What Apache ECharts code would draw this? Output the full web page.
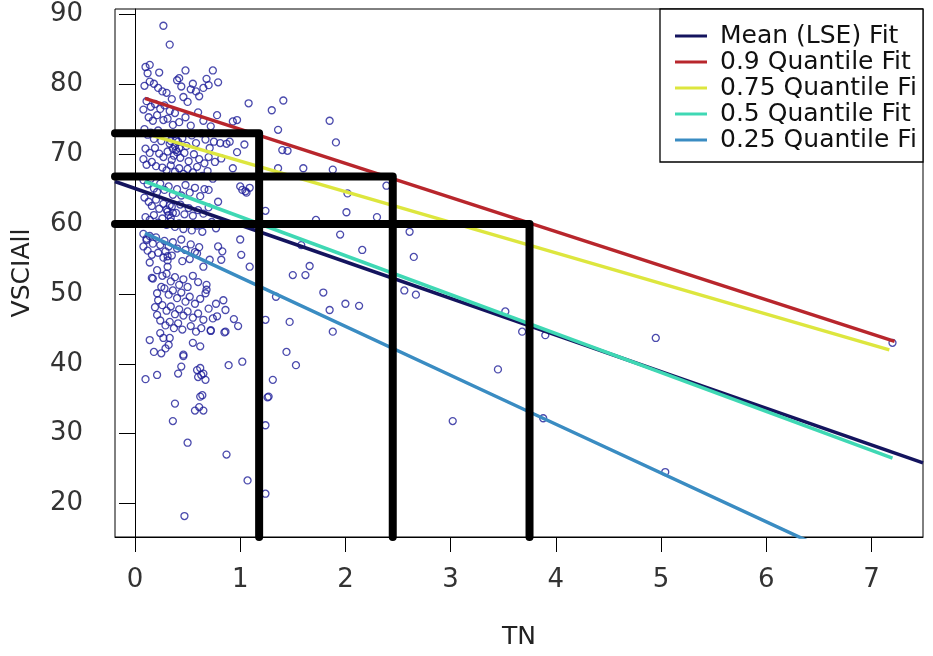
<!DOCTYPE html>
<html>
<head>
<meta charset="utf-8">
<script src="https://cdn.jsdelivr.net/npm/echarts@6/dist/echarts.min.js"></script>
<style>
html,body{margin:0;padding:0;background:#fff;}
#chart{width:933px;height:656px;}
</style>
</head>
<body>
<div id="chart"></div>
<script>
// ---- data ----
const xTicks = [0, 1, 2, 3, 4, 5, 6, 7];
const yTicks = [20, 30, 40, 50, 60, 70, 80, 90];
const xRange = [-0.19, 7.49];
const yRange = [15.2, 90.8];

const seriesNames = ['Mean (LSE) Fit', '0.9 Quantile Fit', '0.75 Quantile Fit', '0.5 Quantile Fit', '0.25 Quantile Fit'];

// fitted lines (TN, VSCIAll) endpoints
const meanFit = [[-0.19, 66.1], [7.49, 25.8]];
const q90Fit  = [[0.095, 78.0], [7.22, 43.2]];
const q75Fit  = [[0.095, 73.0], [7.17, 42.0]];
const q50Fit  = [[0.095, 66.1], [7.20, 26.5]];
const q25Fit  = [[0.095, 58.7], [3.75, 33.1], [7.20, 9.0]];

// thick black guide lines: horizontal level, vertical position
const guideLevels = [73.0, 66.8, 60.0];
const guideTN     = [1.18, 2.45, 3.75];

// observations (TN, VSCIAll)
const obsTN = [
0.27,0.33,0.14,0.23,0.48,0.74,0.79,0.42,0.53,0.65,1.08,1.41,1.30,0.97,1.36,1.85,1.91,1.40,1.45,0.87,1.04,0.97,0.93,1.36,1.60,1.88,1.02,1.09,0.08,
1.24,1.00,1.01,1.09,1.50,1.62,1.34,1.47,1.24,1.00,1.05,0.81,0.90,0.93,1.06,0.79,0.70,0.79,0.83,0.82,0.65,0.71,0.59,0.61,0.68,0.67,0.16,0.08,0.11,
1.79,1.88,1.44,1.53,1.31,1.27,1.02,0.89,0.84,0.86,0.78,0.86,0.94,0.98,0.72,0.68,0.14,0.31,0.17,0.25,0.21,0.22,0.19,0.21,
0.55,0.62,0.46,0.10,0.21,0.41,0.44,0.62,0.65,0.60,0.67,
0.14,0.18,0.25,0.29,0.32,0.24,0.27,0.33,0.46,0.38,0.36,0.50,0.47,0.59,0.63,0.62,0.64,0.57,0.65,0.61,0.72,0.85,0.87,1.07,1.26,1.24,1.24,
2.39,2.61,2.65,2.56,2.67,3.52,3.68,3.45,4.95,3.90,3.02,5.04,3.88,
2.02,2.01,2.16,1.95,1.72,1.58,2.30,1.85,2.00,2.13,1.66,7.20,
0.10,0.12,0.14,0.09,0.18,0.22,0.26,0.30,0.35,0.40,0.44,0.46,0.50,0.55,0.58,0.61,0.68,0.70,0.11,0.15,0.19,0.24,0.28,0.33,0.38,0.13,0.17,0.21,0.08,0.27,0.31,0.36,0.42,0.48,0.53,0.60,0.65,0.72,0.78,
0.09,0.12,0.15,0.18,0.22,0.25,0.29,0.33,0.37,0.41,0.45,0.49,0.54,0.58,0.63,0.67,0.71,0.75,0.10,0.14,0.19,0.23,0.27,0.31,0.35,0.39,0.43,0.47,0.51,0.56,0.61,0.66,0.70,0.76,0.82,0.11,0.16,0.20,0.26,0.30,0.34,0.38,0.42,0.46,0.50,0.55,0.59,0.64,0.69,0.74,
0.36,0.38,0.40,0.37,0.42,0.39,0.34,
0.08,0.12,0.15,0.18,0.21,0.24,0.28,0.32,0.36,0.40,0.44,0.48,0.52,0.57,0.62,0.66,0.09,0.13,0.16,0.20,0.23,0.27,0.31,0.35,0.39,0.43,0.47,0.51,0.55,0.60,0.65,0.70,0.10,0.14,0.18,0.22,0.26,0.30,0.34,0.38,0.42,0.46,0.50,0.54,0.59,0.64,0.73,0.77,
0.32,0.34,0.36,0.30,0.33,
0.08,0.11,0.14,0.17,0.20,0.24,0.28,0.32,0.36,0.40,0.44,0.48,0.53,0.57,0.12,0.16,0.22,0.27,0.31,0.35,0.45,0.52,0.29,0.31,
0.21,0.26,0.30,0.34,0.38,0.42,0.46,0.50,0.55,0.60,0.28,0.32,0.36,0.40,0.44,0.48,0.52,0.57,0.62,0.26,0.30,0.34,0.38,0.42,0.46,0.50,0.55,0.60,0.65,0.70,0.24,0.29,0.33,0.37,0.41,0.45,0.53,0.58,0.63,0.74,0.77
];
const obsVSCI = [
88.4,85.7,82.8,81.7,82.0,82.0,80.3,80.9,79.3,79.5,77.3,77.7,76.3,74.9,73.5,74.8,71.7,70.6,70.5,71.5,71.4,70.3,68.0,68.0,68.0,67.8,64.9,65.2,69.3,
61.9,57.8,55.6,53.9,52.7,52.7,49.6,46.0,46.3,65.4,64.7,71.6,71.8,74.7,64.5,63.2,64.9,56.8,56.1,54.9,53.9,54.9,55.8,56.7,50.6,50.1,52.3,56.8,57.7,
50.2,44.6,41.7,39.8,37.7,35.3,40.3,39.8,49.1,47.7,46.8,44.6,46.4,45.4,44.8,51.3,54.5,53.9,52.2,51.0,50.1,49.1,48.1,47.0,
43.0,42.5,41.3,37.8,38.4,38.6,39.6,39.4,38.6,38.1,37.7,
43.4,41.7,41.5,42.2,42.7,44.4,43.7,43.7,41.1,34.3,31.8,28.7,18.2,39.1,38.4,35.3,35.5,33.3,33.3,33.8,44.7,44.5,27.0,23.3,35.2,31.2,21.4,
65.5,58.9,55.3,50.5,49.9,47.5,44.6,39.2,43.7,44.1,31.8,24.5,32.2,
64.4,61.7,56.3,58.5,60.6,57.0,61.0,47.7,48.6,48.3,54.0,43.0,
82.5,81.6,80.4,79.8,80.1,79.5,79.0,78.8,77.9,80.6,79.7,78.2,77.5,80.1,79.0,78.3,80.8,79.9,77.6,76.8,77.2,76.5,77.0,76.2,75.9,75.3,74.8,75.6,76.4,74.9,75.1,74.2,74.6,75.3,74.1,76.0,74.8,74.0,75.6,
73.6,72.8,73.1,72.2,73.4,71.9,72.6,71.5,72.9,71.8,72.3,71.2,72.7,71.6,73.0,72.1,70.9,71.8,70.8,70.2,70.9,70.1,69.6,70.4,69.2,70.6,69.5,70.2,69.0,70.0,69.3,68.7,69.6,68.9,69.4,68.5,68.9,68.3,68.1,67.7,68.4,67.5,68.0,67.2,67.9,67.4,68.2,66.9,67.6,66.5,
70.8,71.2,70.3,69.8,70.9,72.0,71.9,
66.3,65.7,66.5,65.1,64.6,65.8,64.9,65.4,64.2,65.0,64.1,65.6,64.5,65.2,64.0,65.0,63.8,63.2,62.6,63.5,62.2,62.9,61.8,62.5,61.6,62.8,61.4,62.3,61.2,62.0,61.5,62.4,61.0,60.6,61.3,60.2,60.8,59.9,60.4,59.6,60.1,59.3,60.0,59.1,59.8,58.9,60.3,59.4,
61.3,60.9,61.6,62.1,62.7,
58.6,57.9,58.3,57.2,58.1,57.0,57.6,56.8,57.4,56.5,57.8,56.3,57.1,56.0,56.2,55.6,55.9,55.2,54.8,55.5,54.7,55.0,56.1,55.4,
53.4,52.6,52.9,51.8,52.4,51.3,52.1,51.0,52.6,51.7,50.8,49.9,50.5,49.4,50.2,48.9,49.6,48.6,49.3,48.4,47.6,48.2,47.1,47.8,46.9,47.5,46.6,47.2,46.3,47.9,46.2,45.5,46.0,45.1,45.8,44.9,45.4,44.6,45.1,46.5,48.6
];

// ---- build options ----
const observations = obsTN.map((t, i) => [t, obsVSCI[i]]);
const fitData = [meanFit, q90Fit, q75Fit, q50Fit, q25Fit];
const fitColors = ['#14145e', '#b8262c', '#dde63e', '#3fd8b4', '#3a8cc2'];
const FONT = 'DejaVu Sans';

const series = [{
  type: 'scatter',
  data: observations,
  symbol: 'circle',
  symbolSize: 7,
  itemStyle: { color: 'rgba(0,0,0,0)', borderColor: '#1e1e98', borderWidth: 1.3 },
  silent: true,
  z: 2
}];
fitData.forEach((d, i) => {
  series.push({
    type: 'line', name: seriesNames[i], data: d,
    showSymbol: false, symbol: 'none',
    lineStyle: { color: fitColors[i], width: 3.5 },
    itemStyle: { color: fitColors[i] },
    clip: true, z: 3
  });
});
guideLevels.forEach((lv, i) => {
  series.push({
    type: 'line',
    data: [[xRange[0], lv], [guideTN[i], lv], [guideTN[i], yRange[0]]],
    showSymbol: false, symbol: 'none',
    lineStyle: { color: '#000', width: 8, cap: 'round', join: 'round' },
    clip: false, z: 4, silent: true
  });
});

const chart = echarts.init(document.getElementById('chart'), null, { renderer: 'canvas' });
chart.setOption({
  animation: false,
  backgroundColor: '#fff',
  textStyle: { fontFamily: FONT },
  grid: { left: 115, right: 10, top: 9, bottom: 119, show: true, borderColor: '#000', borderWidth: 1, backgroundColor: 'transparent' },
  legend: {
    data: seriesNames,
    orient: 'vertical',
    left: 660, top: 9,
    padding: [14, 0, 9, 15],
    itemGap: 0,
    itemWidth: 32, itemHeight: 3,
    icon: 'rect',
    backgroundColor: '#fff',
    borderColor: '#000', borderWidth: 1.3,
    textStyle: { fontFamily: FONT, fontSize: 25, lineHeight: 26, color: '#111', width: 203, overflow: 'truncate', ellipsis: '', padding: [0, 0, 0, 8] },
    selectedMode: false,
    z: 10
  },
  xAxis: {
    type: 'value', min: xRange[0], max: xRange[1],
    name: 'TN', nameLocation: 'middle', nameGap: 88,
    nameTextStyle: { fontFamily: FONT, fontSize: 25, color: '#222' },
    axisLine: { show: true, lineStyle: { color: '#000', width: 1 } },
    axisTick: { show: true, inside: false, length: 15, customValues: xTicks, lineStyle: { color: '#000', width: 1 } },
    axisLabel: { customValues: xTicks, fontFamily: FONT, fontSize: 26, color: '#333', margin: 30 },
    splitLine: { show: false }
  },
  yAxis: {
    type: 'value', min: yRange[0], max: yRange[1],
    name: 'VSCIAll', nameLocation: 'middle', nameGap: 80, nameRotate: 90,
    nameTextStyle: { fontFamily: FONT, fontSize: 25, color: '#222' },
    axisLine: { show: true, lineStyle: { color: '#000', width: 1 } },
    axisTick: { show: true, inside: false, length: 16, customValues: yTicks, lineStyle: { color: '#000', width: 1 } },
    axisLabel: { customValues: yTicks, fontFamily: FONT, fontSize: 26, color: '#333', margin: 32 },
    splitLine: { show: false }
  },
  series: series
});
</script>
</body>
</html>
